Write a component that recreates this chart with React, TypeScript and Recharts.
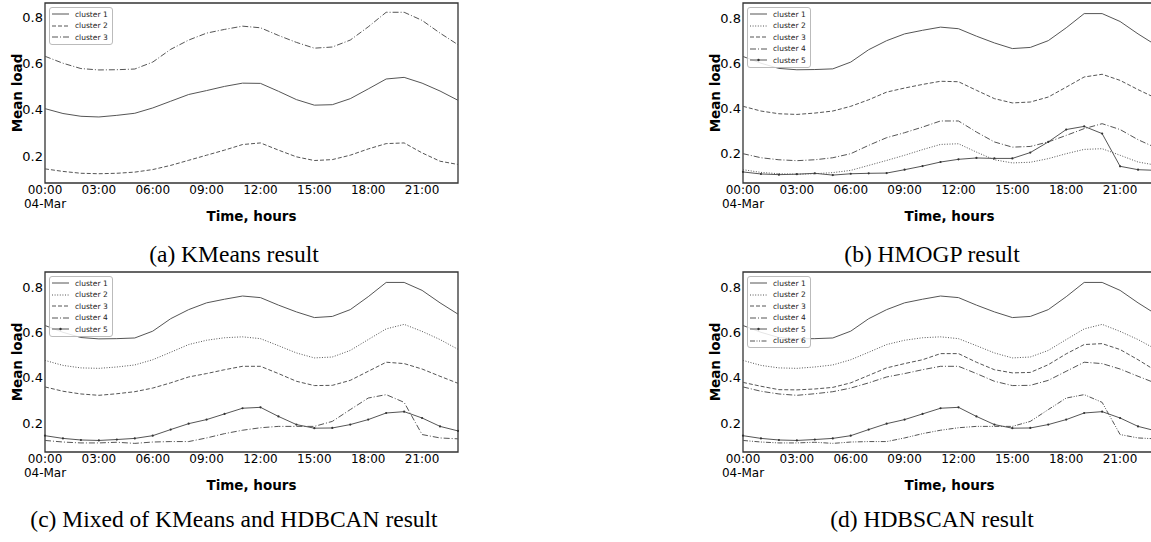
import React from 'react';
import { LineChart, Line, XAxis, YAxis, ReferenceArea } from 'recharts';

const hours = [0, 1, 2, 3, 4, 5, 6, 7, 8, 9, 10, 11, 12, 13, 14, 15, 16, 17, 18, 19, 20, 21, 22, 23];
const xTicks = [0, 3, 6, 9, 12, 15, 18, 21];
const yTicks = [0.2, 0.4, 0.6, 0.8];

// (a) KMeans
const kmHigh = [0.63, 0.60, 0.577, 0.571, 0.572, 0.575, 0.605, 0.66, 0.70, 0.73, 0.746, 0.76, 0.753, 0.72, 0.69, 0.665, 0.67, 0.70, 0.757, 0.82, 0.82, 0.785, 0.73, 0.68];
const kmMid = [0.404, 0.383, 0.371, 0.368, 0.375, 0.384, 0.407, 0.436, 0.465, 0.482, 0.50, 0.514, 0.513, 0.479, 0.443, 0.419, 0.421, 0.447, 0.489, 0.532, 0.539, 0.514, 0.48, 0.44];
const kmLow = [0.144, 0.133, 0.125, 0.123, 0.125, 0.13, 0.141, 0.159, 0.181, 0.203, 0.225, 0.249, 0.256, 0.225, 0.196, 0.18, 0.184, 0.203, 0.23, 0.253, 0.256, 0.213, 0.177, 0.163];

// (b) HMOGP
const hmDotted = [0.128, 0.116, 0.11, 0.108, 0.11, 0.115, 0.125, 0.147, 0.169, 0.192, 0.217, 0.24, 0.243, 0.206, 0.172, 0.158, 0.161, 0.177, 0.199, 0.218, 0.221, 0.192, 0.162, 0.148];
const hmDashed = [0.409, 0.388, 0.376, 0.373, 0.379, 0.388, 0.409, 0.438, 0.472, 0.49, 0.506, 0.52, 0.518, 0.48, 0.443, 0.424, 0.428, 0.45, 0.494, 0.539, 0.551, 0.524, 0.483, 0.445];
const hmDashDot = [0.199, 0.181, 0.172, 0.168, 0.172, 0.181, 0.199, 0.236, 0.27, 0.292, 0.317, 0.344, 0.344, 0.295, 0.251, 0.228, 0.231, 0.251, 0.28, 0.31, 0.332, 0.306, 0.261, 0.225];
const hmMarked = [0.118, 0.109, 0.106, 0.108, 0.112, 0.104, 0.11, 0.112, 0.113, 0.128, 0.144, 0.162, 0.174, 0.18, 0.178, 0.178, 0.204, 0.251, 0.306, 0.32, 0.288, 0.143, 0.128, 0.125];

// (c) mixed, shared with (d)
const mxDotted = [0.476, 0.454, 0.443, 0.441, 0.447, 0.456, 0.479, 0.512, 0.546, 0.565, 0.576, 0.58, 0.572, 0.541, 0.509, 0.487, 0.491, 0.52, 0.568, 0.615, 0.635, 0.604, 0.568, 0.525];
const mxDashed = [0.359, 0.34, 0.328, 0.322, 0.329, 0.338, 0.354, 0.377, 0.403, 0.418, 0.435, 0.45, 0.45, 0.418, 0.384, 0.365, 0.366, 0.388, 0.428, 0.468, 0.462, 0.438, 0.406, 0.375];
const mxDashDot = [0.123, 0.116, 0.112, 0.112, 0.115, 0.11, 0.116, 0.118, 0.118, 0.134, 0.153, 0.168, 0.179, 0.185, 0.185, 0.185, 0.207, 0.259, 0.31, 0.325, 0.291, 0.149, 0.134, 0.13];
const mxMarked = [0.144, 0.132, 0.125, 0.123, 0.127, 0.132, 0.144, 0.171, 0.197, 0.215, 0.24, 0.265, 0.269, 0.229, 0.193, 0.177, 0.178, 0.193, 0.215, 0.244, 0.25, 0.222, 0.185, 0.165];

// (d) HDBSCAN extra cluster
const hdDashed = [0.379, 0.362, 0.347, 0.346, 0.35, 0.357, 0.377, 0.41, 0.443, 0.462, 0.479, 0.506, 0.506, 0.468, 0.435, 0.421, 0.423, 0.457, 0.505, 0.546, 0.55, 0.524, 0.479, 0.43];

const INK = '#555';
const STYLES: Record<string, { dash?: string; dot?: boolean }> = {
    solid: {},
    dotted: { dash: '1 1.6' },
    dashed: { dash: '4 2' },
    dashdot: { dash: '6 2 1 2' },
    dashdotdot: { dash: '5 1.5 1 1.5 1 1.5' },
    marked: { dot: true },
};

type Series = { key: string; name: string; data: number[]; style: string };

const PLOT_W = 413;
const PLOT_H = 180;
const Y_AXIS_W = 45;
const X_AXIS_H = 47;

const fmtHour = (h: number) => `${String(h).padStart(2, '0')}:00`;

const TimeTick = (props: any) => {
    const { x, y, payload } = props;
    return (
        <text x={x} y={y} textAnchor="middle" fontSize={12} fill="#000" fontFamily="DejaVu Sans">
            <tspan x={x} dy={11}>{fmtHour(payload.value)}</tspan>
            {payload.value === 0 && <tspan x={x} dy={14}>04-Mar</tspan>}
        </text>
    );
};

const yLabel = (props: any) => {
    const vb = props.viewBox;
    const cx = vb.x + 17;
    const cy = vb.y + vb.height / 2;
    return (
        <text x={cx} y={cy} transform={`rotate(-90 ${cx} ${cy})`} textAnchor="middle" dominantBaseline="central"
            fontSize={13.5} fontWeight="bold" fontFamily="DejaVu Sans" fill="#000">
            Mean load
        </text>
    );
};

const xLabel = (props: any) => {
    const vb = props.viewBox;
    return (
        <text x={vb.x + vb.width / 2} y={vb.y + 38} textAnchor="middle"
            fontSize={13.5} fontWeight="bold" fontFamily="DejaVu Sans" fill="#000">
            Time, hours
        </text>
    );
};

const LegendBox: React.FC<{ left: number; top: number; items: Series[] }> = ({ left, top, items }) => (
    <div style={{
        position: 'absolute', left, top, border: '1px solid #bbb', borderRadius: 3,
        background: 'rgba(255,255,255,0.85)', padding: '0.5px 4px 0.5px 2px',
        fontFamily: 'DejaVu Sans', fontSize: 7.5, lineHeight: '11.5px', color: '#222',
    }}>
        {items.map((it) => {
            const st = STYLES[it.style];
            return (
                <div key={it.key} style={{ display: 'flex', alignItems: 'center', height: 11.5 }}>
                    <svg width={17} height={8} style={{ display: 'block' }}>
                        <line x1={0} x2={17} y1={4} y2={4} stroke={INK} strokeWidth={1} strokeDasharray={st.dash} />
                        {st.dot && <circle cx={8.5} cy={4} r={1.2} fill="#333" />}
                    </svg>
                    <span style={{ marginLeft: 6 }}>{it.name}</span>
                </div>
            );
        })}
    </div>
);

const Panel: React.FC<{ left: number; top: number; domain: [number, number]; series: Series[] }> = ({ left, top, domain, series }) => {
    const rows = hours.map((h, i) => {
        const r: any = { h };
        series.forEach((s) => { r[s.key] = s.data[i]; });
        return r;
    });
    return (
        <>
            <div style={{ position: 'absolute', left, top }}>
                <LineChart width={Y_AXIS_W + PLOT_W + 12} height={3 + PLOT_H + X_AXIS_H} data={rows}
                    margin={{ top: 3, right: 12, bottom: 0, left: 0 }}>
                    <XAxis dataKey="h" type="number" domain={[0, 23]} ticks={xTicks} interval={0}
                        axisLine={false} tickLine={false} tickSize={0} tickMargin={0} height={X_AXIS_H}
                        tick={<TimeTick />} label={xLabel} />
                    <YAxis type="number" domain={domain} ticks={yTicks} allowDataOverflow width={Y_AXIS_W}
                        axisLine={false} tickLine={false} tickSize={0} tickMargin={2}
                        tickFormatter={(v: number) => v.toFixed(1)}
                        tick={{ fontSize: 13, fill: '#000', fontFamily: 'DejaVu Sans' }} label={yLabel} />
                    {series.map((s) => {
                        const st = STYLES[s.style];
                        return (
                            <Line key={s.key} dataKey={s.key} type="linear" stroke={INK} strokeWidth={1}
                                strokeDasharray={st.dash}
                                dot={st.dot ? { r: 1.1, fill: '#333', stroke: 'none' } : false}
                                activeDot={false} isAnimationActive={false} />
                        );
                    })}
                    <ReferenceArea x1={0} x2={23} y1={domain[0]} y2={domain[1]} fill="none"
                        stroke="#333" strokeWidth={1.3} ifOverflow="visible" />
                </LineChart>
            </div>
            <LegendBox left={left + Y_AXIS_W + 4} top={top + 3 + 4} items={series} />
        </>
    );
};

const seriesA: Series[] = [
    { key: 'c1', name: 'cluster 1', data: kmMid, style: 'solid' },
    { key: 'c2', name: 'cluster 2', data: kmLow, style: 'dashed' },
    { key: 'c3', name: 'cluster 3', data: kmHigh, style: 'dashdot' },
];
const seriesB: Series[] = [
    { key: 'c1', name: 'cluster 1', data: kmHigh, style: 'solid' },
    { key: 'c2', name: 'cluster 2', data: hmDotted, style: 'dotted' },
    { key: 'c3', name: 'cluster 3', data: hmDashed, style: 'dashed' },
    { key: 'c4', name: 'cluster 4', data: hmDashDot, style: 'dashdot' },
    { key: 'c5', name: 'cluster 5', data: hmMarked, style: 'marked' },
];
const seriesC: Series[] = [
    { key: 'c1', name: 'cluster 1', data: kmHigh, style: 'solid' },
    { key: 'c2', name: 'cluster 2', data: mxDotted, style: 'dotted' },
    { key: 'c3', name: 'cluster 3', data: mxDashed, style: 'dashed' },
    { key: 'c4', name: 'cluster 4', data: mxDashDot, style: 'dashdot' },
    { key: 'c5', name: 'cluster 5', data: mxMarked, style: 'marked' },
];
const seriesD: Series[] = [
    { key: 'c1', name: 'cluster 1', data: kmHigh, style: 'solid' },
    { key: 'c2', name: 'cluster 2', data: mxDotted, style: 'dotted' },
    { key: 'c3', name: 'cluster 3', data: hdDashed, style: 'dashed' },
    { key: 'c4', name: 'cluster 4', data: mxDashed, style: 'dashdot' },
    { key: 'c5', name: 'cluster 5', data: mxMarked, style: 'marked' },
    { key: 'c6', name: 'cluster 6', data: mxDashDot, style: 'dashdotdot' },
];

const captions = [
    { text: '(a) KMeans result', x: 234, y: 262 },
    { text: '(b) HMOGP result', x: 932, y: 262 },
    { text: '(c) Mixed of KMeans and HDBCAN result', x: 234, y: 527 },
    { text: '(d) HDBSCAN result', x: 932, y: 527 },
];

export default function App() {
    return (
        <div style={{ position: 'absolute', left: 0, top: 0, width: 1151, height: 542, overflow: 'hidden', background: '#fff' }}>
            <Panel left={0} top={0} domain={[0.083, 0.86]} series={seriesA} />
            <Panel left={698} top={0} domain={[0.069, 0.867]} series={seriesB} />
            <Panel left={0} top={269} domain={[0.072, 0.866]} series={seriesC} />
            <Panel left={698} top={269} domain={[0.072, 0.866]} series={seriesD} />
            <svg width={1151} height={542} style={{ position: 'absolute', left: 0, top: 0, pointerEvents: 'none' }}>
                {captions.map((c) => (
                    <text key={c.text} x={c.x} y={c.y} textAnchor="middle" fontSize={23.5}
                        fontFamily="Liberation Serif" fill="#000">{c.text}</text>
                ))}
            </svg>
        </div>
    );
}
